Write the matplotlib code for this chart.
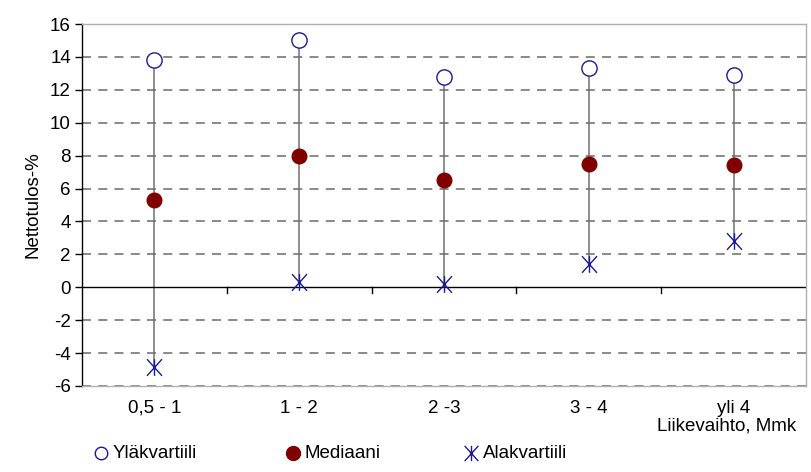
import numpy as np
import matplotlib.pyplot as plt
from matplotlib.lines import Line2D
from matplotlib.path import Path

plt.rcParams['font.family'] = ['Liberation Sans', 'DejaVu Sans']
plt.rcParams['axes.unicode_minus'] = False

categories = ['0,5 - 1', '1 - 2', '2 -3', '3 - 4', 'yli 4']
upper = [13.8, 15.0, 12.8, 13.3, 12.9]
median = [5.3, 8.0, 6.5, 7.5, 7.45]
lower = [-4.85, 0.3, 0.2, 1.4, 2.8]

W, H = 812, 472
fig = plt.figure(figsize=(W / 100, H / 100), dpi=100)
ax = fig.add_axes([82 / W, 1 - 386 / H, (806 - 82) / W, (386 - 24) / H])

# asterisk marker: vertical stroke plus an X
star = Path([(0, -1), (0, 1), (-0.9, -1), (0.9, 1), (-0.9, 1), (0.9, -1)],
            [Path.MOVETO, Path.LINETO] * 3)

blue = '#1a1a99'
red = '#800000'
fs = 13.5

x = np.arange(len(categories))
ax.set_xlim(-0.5, len(categories) - 0.5)
ax.set_ylim(-6, 16)

# dashed gridlines
for yv in range(-6, 17, 2):
    if yv == 0:
        continue
    ax.axhline(yv, color='#808080', lw=1.3, ls=(0, (5, 4)), zorder=1)

# high-low lines
ax.vlines(x, lower, upper, color='#707070', lw=1.1, zorder=2)

ax.plot(x, upper, ls='none', marker='o', ms=11, mfc='white', mec=blue, mew=1.0, zorder=3)
ax.plot(x, median, ls='none', marker='o', ms=10.5, mfc=red, mec=red, zorder=3)
ax.plot(x, lower, ls='none', marker=star, ms=12, mec=blue, mew=1.0, zorder=3)

# zero axis with ticks between categories
ax.axhline(0, color='black', lw=1.0, zorder=2)
for b in np.arange(0.5, len(categories) - 0.5, 1):
    ax.plot([b, b], [0, -0.35], color='black', lw=1.0, zorder=2, clip_on=False)

for s in ['top', 'right', 'bottom']:
    ax.spines[s].set_color('#b0b0b0')
    ax.spines[s].set_linewidth(1.0)
ax.spines['left'].set_color('black')
ax.spines['left'].set_linewidth(1.0)

ax.set_yticks(range(-6, 17, 2))
ax.tick_params(axis='y', direction='out', length=5, width=1, labelsize=fs, pad=3)
ax.set_xticks(x)
ax.set_xticklabels(categories, fontsize=fs)
ax.tick_params(axis='x', length=0, pad=10)
ax.set_ylabel('Nettotulos-%', fontsize=fs, labelpad=6)

fig.text(727 / W, 1 - 426 / H, 'Liikevaihto, Mmk', fontsize=fs, ha='center', va='center')

# legend row drawn by hand
labels = ['Yläkvartiili', 'Mediaani', 'Alakvartiili']
styles = [dict(marker='o', ms=9, mfc='white', mec=blue, mew=1.0),
          dict(marker='o', ms=10, mfc=red, mec=red),
          dict(marker=star, ms=11, mec=blue, mew=1.0)]
mx = [101, 293, 471]
ly = 1 - 453 / H
for px, lab, st in zip(mx, labels, styles):
    fig.add_artist(Line2D([px / W], [ly], ls='none', transform=fig.transFigure, **st))
    fig.text((px + 12) / W, ly, lab, fontsize=fs, ha='left', va='center')

fig.savefig('out.png', dpi=100)
